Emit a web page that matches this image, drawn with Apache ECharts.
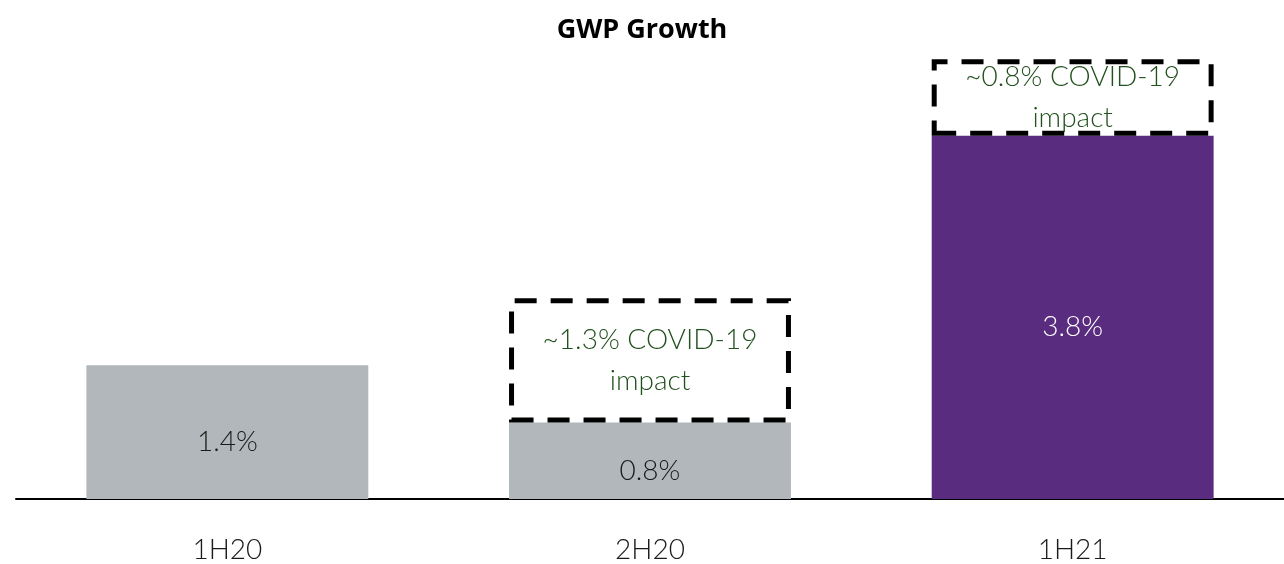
<!DOCTYPE html>
<html>
<head>
<meta charset="utf-8">
<script src="https://cdn.jsdelivr.net/npm/echarts@6/dist/echarts.min.js"></script>
<style>html,body{margin:0;padding:0;background:#fff}#c{width:1284px;height:564px}</style>
</head>
<body>
<div id="c"></div>
<script>
const categories = ['1H20', '2H20', '1H21'];
const growth = [1.4, 0.8, 3.8];
const covidImpact = [null, 1.3, 0.8];
const barColors = ['#B1B7BA', '#B1B7BA', '#5A2C7F'];
const labelColors = ['#1a1a1a', '#1a1a1a', '#FFFFFF'];

const chart = echarts.init(document.getElementById('c'));
chart.setOption({
  animation: false,
  title: {
    text: 'GWP Growth', left: 'center', top: 12,
    textStyle: { fontFamily: 'Open Sans', fontWeight: 'bold', fontSize: 27, color: '#000' }
  },
  grid: { left: 16, right: 0, top: 21, bottom: 63 },
  xAxis: {
    type: 'category', data: categories,
    axisLine: { lineStyle: { color: '#000', width: 2 } },
    axisTick: { show: false },
    axisLabel: { fontFamily: 'Lato', fontWeight: 300, fontSize: 28, color: '#1a1a1a', margin: 37 }
  },
  yAxis: { type: 'value', min: 0, max: 5, show: false, splitLine: { show: false } },
  series: [
    {
      type: 'bar', stack: 's', barWidth: '66.7%',
      data: growth.map((v, i) => ({
        value: v,
        itemStyle: { color: barColors[i] },
        label: { color: labelColors[i] }
      })),
      label: {
        show: true, position: 'inside', offset: [0, 10],
        formatter: p => p.value.toFixed(1) + '%',
        fontFamily: 'Lato', fontWeight: 300, fontSize: 28
      }
    },
    {
      type: 'bar', stack: 's', barWidth: '66.7%',
      data: covidImpact,
      itemStyle: { color: '#fff', borderColor: '#000', borderWidth: 5, borderType: [22, 14] },
      label: {
        show: true, position: 'inside',
        formatter: p => '~' + p.value.toFixed(1) + '% COVID-19\nimpact',
        fontFamily: 'Lato', fontWeight: 300, fontSize: 28, lineHeight: 41, color: '#22501E'
      }
    }
  ]
});
</script>
</body>
</html>
